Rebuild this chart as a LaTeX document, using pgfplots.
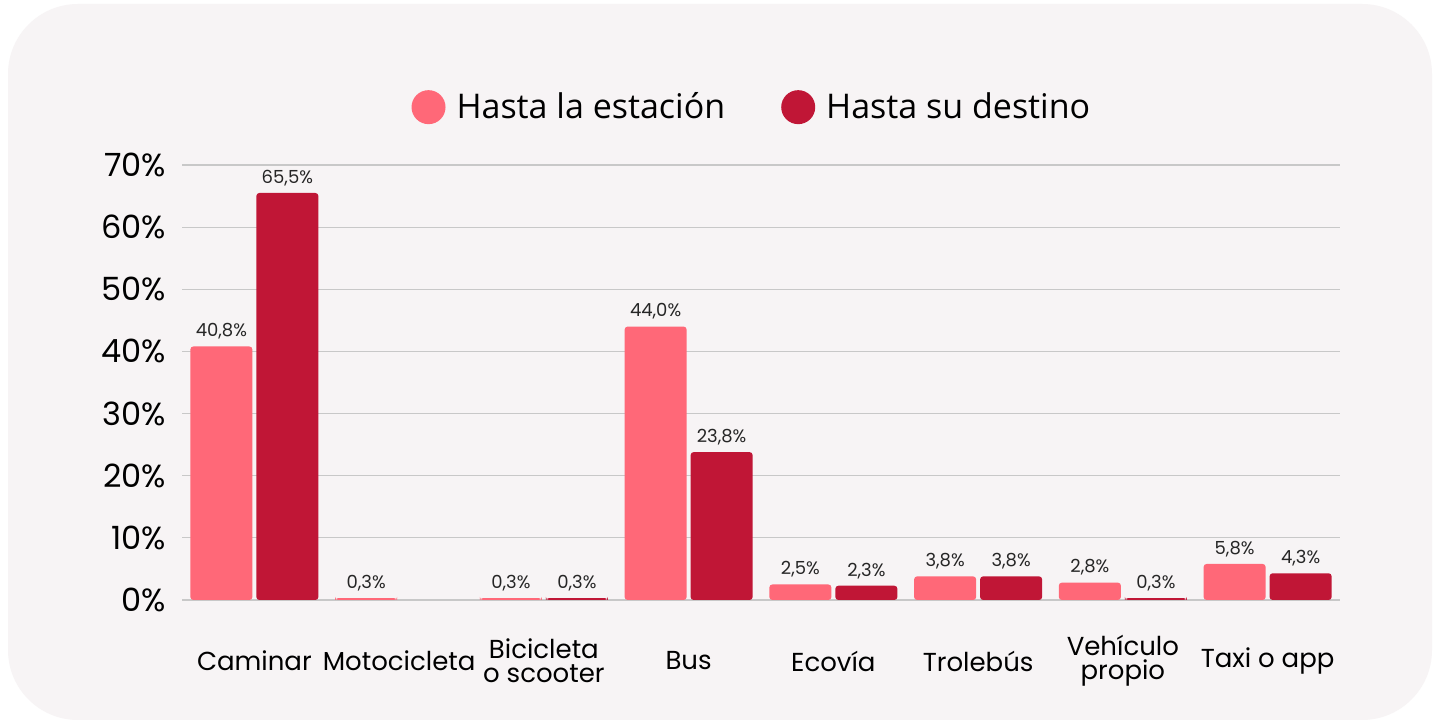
\documentclass[border=0pt]{standalone}
\usepackage{fontspec}
\setmainfont{Poppins}
\newfontfamily\legfont{Open Sans}
\usepackage{pgfplots}
\pgfplotsset{compat=1.18}
\definecolor{estacion}{HTML}{FF6878}
\definecolor{destino}{HTML}{C01636}
\definecolor{panel}{HTML}{F7F4F5}
\definecolor{gridgray}{HTML}{C8C8C8}

\begin{document}
\begin{tikzpicture}
% background panel (1px = 0.5pt)
\fill[white] (0,0) rectangle (720pt,361pt);
\fill[panel, rounded corners=35pt] (4pt,1pt) rectangle (716pt,359pt);
\begin{axis}[
    at={(91pt,61pt)}, anchor=south west,
    scale only axis,
    width=579pt, height=217.5pt,
    ybar=2pt, bar width=31pt,
    xmin=-0.5, xmax=7.5,
    ymin=0, ymax=70,
    ytick={0,10,...,70},
    yticklabel={\pgfmathprintnumber{\tick}\%},
    /pgf/number format/assume math mode=true,
    xtick={0,...,7},
    xticklabels={Caminar,Motocicleta,{Bicicleta\\o scooter},Bus,Ecovía,Trolebús,{Vehículo\\propio},Taxi o app},
    xticklabel style={font=\fontsize{13}{12}\selectfont, align=center, anchor=center, yshift=-30.5pt},
    yticklabel style={font=\fontsize{16}{16}\selectfont, xshift=-4.5pt},
    major tick length=0pt,
    axis line style={draw=none},
    ymajorgrids,
    grid style={gridgray, line width=0.6pt},
    nodes near coords={\pgfmathprintnumber[fixed,fixed zerofill,precision=1,use comma]{\pgfplotspointmeta}\%},
    every node near coord/.append style={font=\fontsize{9}{9}\selectfont, color=black!85},
    legend columns=2,
    legend style={at={(0.493,1.133)}, anchor=center, draw=none, fill=none,
        font=\legfont\fontsize{17}{17}\selectfont,
        /tikz/every even column/.append style={column sep=26pt}},
    legend image code/.code={\fill[#1, draw=none] (8pt,0pt) circle (8.5pt); \path (20pt,0pt);},
]
\addplot[fill=estacion, draw=none, rounded corners=1.5pt] coordinates {
    (0,40.8) (1,0.3) (2,0.3) (3,44.0) (4,2.5) (5,3.8) (6,2.8) (7,5.8)
};
\addplot[fill=destino, draw=none, rounded corners=1.5pt] coordinates {
    (0,65.5) (2,0.3) (3,23.8) (4,2.3) (5,3.8) (6,0.3) (7,4.3)
};
\legend{Hasta la estación, Hasta su destino}
\end{axis}
\pgfresetboundingbox
\path (0,0) rectangle (720pt,361pt);
\end{tikzpicture}
\end{document}
